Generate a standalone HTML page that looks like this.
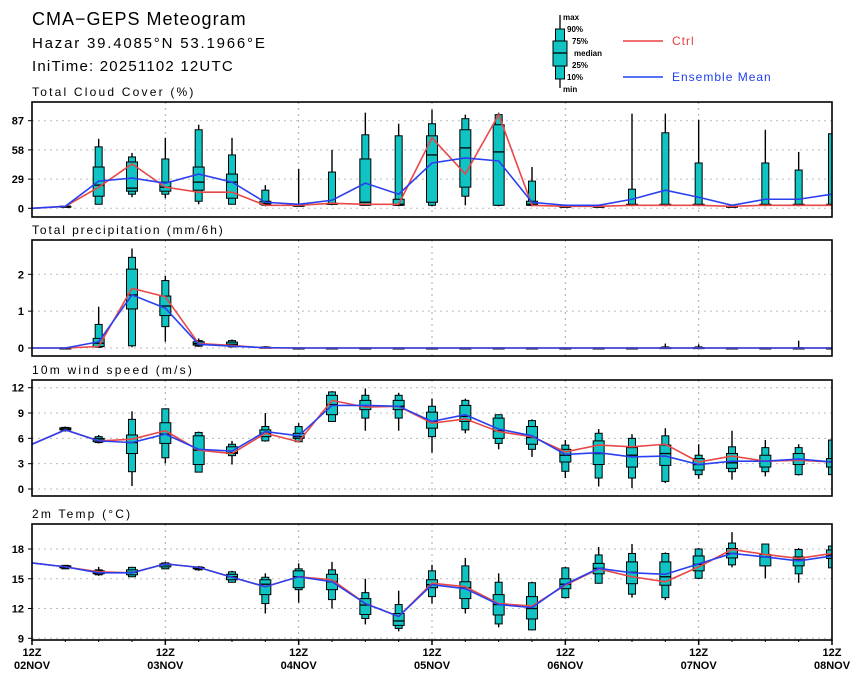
<!DOCTYPE html>
<html><head><meta charset="utf-8"><style>
html,body{margin:0;padding:0;background:#fff;}
svg{display:block;font-family:"Liberation Sans",sans-serif;}
.t{font-weight:bold;fill:#000;}
</style></head><body>
<svg id="chart" width="860" height="678" viewBox="0 0 860 678" xmlns="http://www.w3.org/2000/svg">
<text x="32" y="25" font-size="18" letter-spacing="1" fill="#000">CMA−GEPS Meteogram</text>
<text x="32" y="48" font-size="15" letter-spacing="1.8" fill="#000">Hazar 39.4085°N 53.1966°E</text>
<text x="32" y="71" font-size="15" letter-spacing="1.2" fill="#000">IniTime: 20251102 12UTC</text>
<g>
<line x1="560" y1="15" x2="560" y2="88" stroke="#000" stroke-width="1.3"/>
<rect x="555.5" y="29" width="9" height="50" fill="#10c4c4" stroke="#000"/>
<rect x="553" y="41" width="14" height="25" fill="#10c4c4" stroke="#000"/>
<line x1="553" y1="53" x2="567" y2="53" stroke="#000" stroke-width="1.3"/>
<g font-size="8" class="t"><text x="563" y="20">max</text><text x="567" y="32">90%</text><text x="572" y="44">75%</text><text x="574" y="56">median</text><text x="572" y="68">25%</text><text x="567" y="80">10%</text><text x="563" y="92">min</text></g>
<line x1="623" y1="41" x2="663" y2="41" stroke="#e84040" stroke-width="1.5"/>
<text x="672" y="45" font-size="12" letter-spacing="1" fill="#e84040">Ctrl</text>
<line x1="623" y1="77" x2="663" y2="77" stroke="#2040f0" stroke-width="1.5"/>
<text x="672" y="81" font-size="12" letter-spacing="1" fill="#2040f0">Ensemble Mean</text>
</g>
</svg>
<script>
// x categories: 25 steps of 6h from 12Z 02NOV
const steps = [0,1,2,3,4,5,6,7,8,9,10,11,12,13,14,15,16,17,18,19,20,21,22,23,24];
const dayLabels = ["02NOV","03NOV","04NOV","05NOV","06NOV","07NOV","08NOV"];

// Cloud cover (%)
const cloudCtrl = [0,2,21,44,21,16,16,3,3,5,4,4,70,34,93,3,2,2,3,3,3,2,3,3,3];
const cloudMean = [0,2,27,30,25,34,26,6,4,8,25,14,45,50,47,6,3,3,9,18,11,3,9,9,14];
const cloudMin = [0,1,4,11,10,4,4,2,2,3,3,2,2,3,2,2,2,2,2,2,2,2,2,2,2];
const cloudP10 = [0,1,4,14,14,7,4,3,2,4,3,3,3,12,3,3,2,2,3,3,3,2,3,3,3];
const cloudP25 = [0,1,12,17,17,18,10,4,3,5,3,3,6,21,3,3,2,2,3,3,3,2,3,3,3];
const cloudMed = [0,2,23,20,21,26,26,5,3,4,6,4,53,60,56,4,2,2,3,3,3,2,3,3,3];
const cloudP75 = [0,2,41,46,26,41,34,7,3,5,49,9,72,78,83,7,2,2,4,4,4,2,4,4,4];
const cloudP90 = [0,2,61,51,49,78,53,18,3,36,73,72,84,89,93,27,2,2,19,75,45,2,45,38,74];
const cloudMax = [0,2,69,55,70,83,70,23,39,58,95,84,98,93,95,41,2,2,94,94,88,2,78,56,74];

// Precipitation (mm/6h)
const prCtrl = [0,0,0.04,1.62,1.39,0.12,0.07,0,0,0,0,0,0,0,0,0,0,0,0,0,0,0,0,0,0];
const prMean = [0,0,0.17,1.44,1.08,0.1,0.05,0.01,0,0,0,0,0,0,0,0,0,0,0,0,0,0,0,0,0];
const prMin = [0,0,0,0.02,0.17,0.03,0.02,0,0,0,0,0,0,0,0,0,0,0,0,0,0,0,0,0,0];
const prP10 = [0,0,0.02,0.06,0.58,0.05,0.03,0,0,0,0,0,0,0,0,0,0,0,0,0,0,0,0,0,0];
const prP25 = [0,0,0.04,1.06,0.88,0.08,0.06,0.01,0,0,0,0,0,0,0,0,0,0,0,0,0,0,0,0,0];
const prMed = [0,0,0.13,1.44,1.14,0.12,0.1,0.01,0,0,0,0,0,0,0,0,0,0,0,0,0,0,0,0,0];
const prP75 = [0,0,0.26,2.14,1.41,0.17,0.16,0.02,0,0,0,0,0,0,0,0,0,0,0,0.01,0.01,0,0,0,0];
const prP90 = [0,0,0.64,2.46,1.83,0.2,0.2,0.03,0,0,0,0,0,0,0,0,0,0,0,0.03,0.03,0,0,0.01,0];
const prMax = [0,0,1.12,2.7,1.96,0.26,0.23,0.05,0,0,0,0,0,0,0,0,0,0,0,0.12,0.1,0,0,0.2,0];

// 10m wind speed (m/s)
const wCtrl = [5.3,7.0,5.7,5.9,6.9,4.6,4.2,6.6,5.6,10.5,9.7,9.8,7.8,8.3,6.8,6.2,4.4,5.2,5.0,5.3,3.2,3.9,3.3,3.4,3.2];
const wMean = [5.3,7.0,5.7,5.5,6.5,4.7,4.5,6.8,6.3,9.9,9.9,9.8,8.0,8.8,7.1,6.3,4.1,4.3,3.8,3.9,2.9,3.3,3.3,3.55,3.2];
const wMin = [5.3,6.8,5.4,0.35,3.05,2.0,2.9,5.6,5.5,8.0,6.9,6.9,4.3,6.6,4.7,3.8,1.3,0.3,0.1,0.7,1.2,1.1,1.5,1.6,1.7];
const wP10 = [5.3,6.9,5.5,2.05,3.7,2.0,3.95,5.7,5.6,8.0,8.4,8.4,6.2,7.0,5.4,4.7,2.1,1.3,1.3,0.9,1.7,2.05,2.05,1.7,1.7];
const wP25 = [5.3,7.0,5.6,4.2,5.4,2.9,4.2,6.2,6.0,8.8,9.4,9.4,7.2,8.0,6.0,5.3,3.2,2.9,2.6,2.8,2.25,2.45,2.6,2.9,2.6];
const wMed = [5.3,7.1,5.8,5.5,6.5,4.6,4.3,6.6,6.2,10.0,9.8,9.8,8.0,8.6,6.9,6.1,4.0,4.2,4.0,4.2,2.9,3.1,3.3,3.4,3.2];
const wP75 = [5.3,7.25,6.0,6.4,7.85,6.3,5.0,7.0,6.6,11.1,10.5,10.5,9.1,9.9,8.4,7.4,4.7,5.7,4.9,5.2,3.6,4.2,4.0,4.2,3.6];
const wP90 = [5.3,7.3,6.2,8.25,9.5,6.7,5.3,7.4,7.4,11.5,11.1,11.1,9.8,10.5,8.8,8.1,5.2,6.6,6.0,6.3,4.0,5.0,4.9,4.9,5.8];
const wMax = [5.3,7.4,6.4,9.2,9.55,6.8,5.7,9.0,7.8,11.6,11.9,11.4,10.7,10.7,8.8,8.25,5.8,7.1,6.5,7.2,5.3,6.9,5.8,5.3,5.8];

// 2m temperature (°C)
const tCtrl = [16.6,16.2,15.7,15.6,16.5,16.15,15.15,14.2,15.2,14.9,12.5,11.2,14.55,14.2,12.5,12.25,14.35,16.0,15.2,14.7,16.2,17.95,17.45,17.05,17.55];
const tMean = [16.6,16.2,15.6,15.6,16.5,16.15,15.15,14.2,15.2,14.7,12.5,11.2,14.4,14.0,12.4,12.1,14.45,16.05,15.6,15.45,16.5,17.55,17.2,16.8,17.3];
const tMin = [16.6,16.0,15.3,15.2,16.0,15.8,14.6,11.5,12.6,12.0,10.4,9.7,12.5,11.5,10.1,9.8,13.0,14.5,13.1,12.85,15.0,16.15,15.05,14.6,16.1];
const tP10 = [16.6,16.0,15.4,15.2,16.0,15.9,14.65,12.5,13.9,12.9,11.0,10.0,13.2,12.0,10.45,9.85,13.1,14.55,13.45,13.1,15.05,16.4,16.3,15.5,16.1];
const tP25 = [16.6,16.1,15.5,15.4,16.2,16.0,14.9,13.4,14.1,13.9,11.4,10.3,14.1,13.0,11.35,10.95,14.0,15.5,14.5,14.35,15.8,17.1,16.3,16.3,17.05];
const tMed = [16.6,16.2,15.6,15.65,16.4,16.1,15.2,14.45,15.2,14.7,12.35,10.75,14.4,14.1,12.4,12.0,14.45,16.05,15.65,15.2,16.45,17.55,17.2,16.9,17.4];
const tP75 = [16.6,16.3,15.8,15.9,16.5,16.15,15.45,14.9,15.8,15.45,13.0,11.5,14.9,14.7,13.4,13.2,15.0,16.55,16.7,16.7,17.3,18.05,17.45,17.2,17.9];
const tP90 = [16.6,16.35,15.9,16.15,16.6,16.2,15.7,15.15,16.0,15.9,13.6,12.4,15.8,16.3,14.65,14.6,16.1,17.4,17.55,17.55,18.0,18.6,18.5,17.95,18.3];
const tMax = [16.6,16.4,16.2,16.2,16.7,16.3,15.8,15.55,16.55,16.7,15.0,13.8,16.4,17.1,15.55,14.7,16.2,18.2,18.5,17.65,18.1,19.7,18.5,18.1,18.3];

const yTicksCloud = [0,29,58,87];
const yTicksPr = [0,1,2];
const yTicksW = [0,3,6,9,12];
const yTicksT = [9,12,15,18];

const NS = "http://www.w3.org/2000/svg";
const svg = document.getElementById("chart");
const X0 = 32, X1 = 832;
function xOf(i){ return X0 + (X1 - X0) * i / (steps.length - 1); }
function mk(tag, attrs, parent){ const e = document.createElementNS(NS, tag); for (const k in attrs) e.setAttribute(k, attrs[k]); (parent||svg).appendChild(e); return e; }

const panels = [
 {key:"cloud", title:"Total Cloud Cover (%)", ls:2.2, top:102, bot:217, v0:0, y0:208.3, v1:87, y1:120.7, ticks:yTicksCloud,
  ctrl:cloudCtrl, mean:cloudMean, mn:cloudMin, p10:cloudP10, p25:cloudP25, md:cloudMed, p75:cloudP75, p90:cloudP90, mx:cloudMax},
 {key:"precip", title:"Total precipitation (mm/6h)", ls:1.9, top:240, bot:356, v0:0, y0:348, v1:2, y1:274.3, ticks:yTicksPr,
  ctrl:prCtrl, mean:prMean, mn:prMin, p10:prP10, p25:prP25, md:prMed, p75:prP75, p90:prP90, mx:prMax},
 {key:"wind", title:"10m wind speed (m/s)", ls:2.2, top:380, bot:496, v0:0, y0:489, v1:12, y1:387.7, ticks:yTicksW,
  ctrl:wCtrl, mean:wMean, mn:wMin, p10:wP10, p25:wP25, md:wMed, p75:wP75, p90:wP90, mx:wMax},
 {key:"temp", title:"2m Temp (°C)", ls:2.2, top:524, bot:640, v0:9, y0:638.3, v1:18, y1:549, ticks:yTicksT,
  ctrl:tCtrl, mean:tMean, mn:tMin, p10:tP10, p25:tP25, md:tMed, p75:tP75, p90:tP90, mx:tMax}
];

const defs = mk("defs", {});
panels.forEach(function(p, pi){
  const yOf = function(v){ return p.y0 + (v - p.v0) * (p.y1 - p.y0) / (p.v1 - p.v0); };
  const g = mk("g", {});
  
  
  const cp = mk("clipPath", {id:"clip" + pi}, defs);
  mk("rect", {x:X0, y:p.top, width:X1 - X0, height:p.bot - p.top}, cp);
  const tt = mk("text", {x:32, y:p.top - 6, "font-size":12, "letter-spacing":p.ls, fill:"#000"}, g);
  tt.textContent = p.title;
  
  
  p.ticks.forEach(function(v){
    const y = yOf(v);
    mk("line", {x1:X0, x2:X1, y1:y, y2:y, stroke:"#bbb", "stroke-width":1, "stroke-dasharray":"2,4"}, g);
    mk("line", {x1:X0 - 4, x2:X0, y1:y, y2:y, stroke:"#000"}, g);
    const lab = mk("text", {x:X0 - 8, y:y + 4, "font-size":11, "text-anchor":"end", "class":"t"}, g);
    lab.textContent = String(v);
    
    
  });
  for (let i = 4; i < steps.length - 1; i += 4) {
    mk("line", {x1:xOf(i), x2:xOf(i), y1:p.top, y2:p.bot, stroke:"#aaa", "stroke-dasharray":"2,4"}, g);
  }
  const cg = mk("g", {"clip-path":"url(#clip" + pi + ")"}, g);
  steps.forEach(function(s, i){
    if (i === 0) return;
    const x = xOf(i);
    const bg = mk("g", {}, cg);
    
    
    mk("line", {x1:x, x2:x, y1:yOf(p.mx[i]), y2:yOf(p.mn[i]), stroke:"#000", "stroke-width":1.4}, bg);
    const y90 = yOf(p.p90[i]), y10 = yOf(p.p10[i]);
    mk("rect", {x:x - 3.5, y:y90, width:7, height:Math.max(1, y10 - y90), fill:"#10c4c4", stroke:"#000", "stroke-width":1}, bg);
    const y75 = yOf(p.p75[i]), y25 = yOf(p.p25[i]);
    mk("rect", {x:x - 5.5, y:y75, width:11, height:Math.max(1, y25 - y75), fill:"#10c4c4", stroke:"#000", "stroke-width":1}, bg);
    const ym = yOf(p.md[i]);
    mk("line", {x1:x - 5.5, x2:x + 5.5, y1:ym, y2:ym, stroke:"#000", "stroke-width":1.3}, bg);
  });
  const ptsC = p.ctrl.map(function(v, i){ return xOf(i) + "," + yOf(v); }).join(" ");
  const lc = mk("polyline", {points:ptsC, fill:"none", stroke:"#e84848", "stroke-width":1.6}, cg);
  
  
  const ptsM = p.mean.map(function(v, i){ return xOf(i) + "," + yOf(v); }).join(" ");
  const lm = mk("polyline", {points:ptsM, fill:"none", stroke:"#2a40f0", "stroke-width":1.6}, cg);
  
  
  mk("rect", {x:X0, y:p.top, width:X1 - X0, height:p.bot - p.top, fill:"none", stroke:"#000", "stroke-width":1.6}, g);
  if (pi === panels.length - 1) {
    dayLabels.forEach(function(d, k){
      const x = xOf(k * 4);
      mk("line", {x1:x, x2:x, y1:p.bot, y2:p.bot + 5, stroke:"#000", "stroke-width":1.5}, g);
      const a = mk("text", {x:x, y:p.bot + 16, "font-size":11, "text-anchor":"middle", "class":"t"}, g);
      a.textContent = "12Z";
      
      
      const b = mk("text", {x:x, y:p.bot + 29, "font-size":11, "text-anchor":"middle", "class":"t"}, g);
      b.textContent = d;
      
      
    });
    for (let i = 1; i < steps.length; i++) {
      if (i % 4) mk("line", {x1:xOf(i), x2:xOf(i), y1:p.bot, y2:p.bot + 2, stroke:"#000"}, g);
    }
  }
});
</script>
</body></html>
